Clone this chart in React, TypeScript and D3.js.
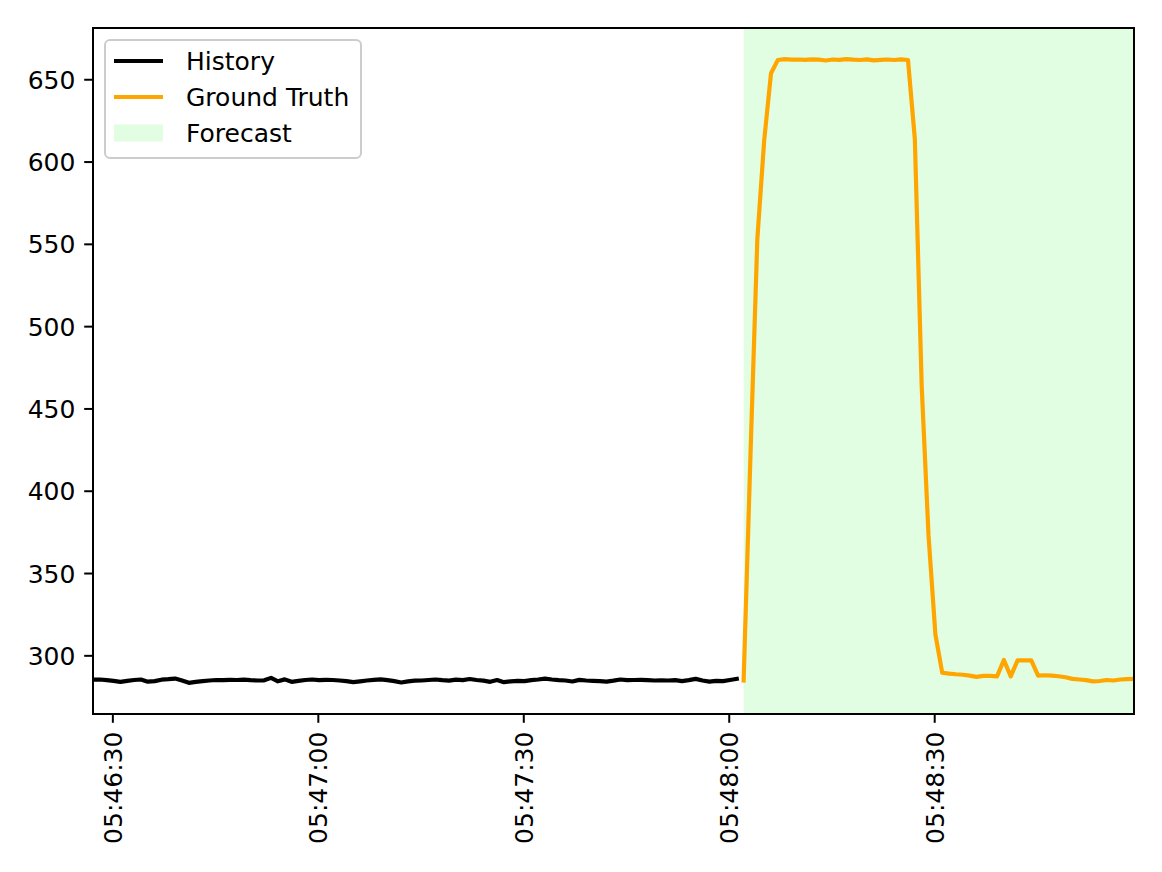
import React from "react";
import * as d3 from "d3";

const historyValues: number[] = [
  285.5, 285.6, 285.2, 284.8, 284.2, 284.8, 285.3, 285.6, 284.3, 284.6,
  285.5, 285.8, 286.2, 285.0, 283.6, 284.2, 284.6, 285.0, 285.3, 285.2,
  285.4, 285.3, 285.5, 285.2, 285.0, 285.1, 286.6, 284.5, 285.7, 284.2,
  284.8, 285.3, 285.6, 285.2, 285.4, 285.3, 285.0, 284.6, 284.0, 284.5,
  285.0, 285.4, 285.7, 285.2, 284.6, 283.8, 284.5, 284.9, 285.0, 285.3,
  285.6, 285.2, 284.9, 285.5, 285.2, 285.9, 285.3, 284.9, 284.2, 285.3,
  284.0, 284.5, 284.8, 284.6, 285.2, 285.6, 286.1, 285.6, 285.2, 285.0,
  284.4, 285.4, 285.0, 284.8, 284.6, 284.3, 284.9, 285.6, 285.2, 285.3,
  285.4, 285.2, 285.0, 285.1, 285.0, 285.2, 284.6, 285.2, 286.0, 285.0,
  284.3, 284.8, 284.6, 285.3, 286.0,
];

const groundTruthValues: number[] = [
  285, 422, 553, 613, 654, 662, 662.5, 662.2, 662.3, 662.1,
  662.4, 662.2, 661.7, 662.3, 662.1, 662.5, 662.2, 662.0, 662.4, 661.8,
  662.1, 662.3, 662.0, 662.4, 662.0, 614, 464, 373, 313, 289.7,
  289.2, 288.8, 288.5, 288.0, 287.2, 287.8, 287.8, 287.5, 297.5, 287.5,
  297.2, 297.3, 297.2, 288.0, 288.2, 288.0, 287.6, 287.0, 286.0, 285.6,
  285.2, 284.5, 284.7, 285.3, 285.0, 285.6, 285.8, 286.0,
];

const legendLabels: string[] = ["History", "Ground Truth", "Forecast"];
const yTickValues: number[] = [300, 350, 400, 450, 500, 550, 600, 650];

// time base: 1-second samples
const startTime = Date.UTC(2024, 0, 1, 5, 46, 27, 100);
const stepMs = 1000;

type Pt = { t: Date; v: number };
const historyData: Pt[] = historyValues.map((v, i) => ({ t: new Date(startTime + i * stepMs), v }));
const gtOffset = historyValues.length;
const gtData: Pt[] = groundTruthValues.map((v, i) => ({ t: new Date(startTime + (gtOffset + i) * stepMs), v }));

const W = 1162;
const H = 872;
const L = 93;
const R = 1134;
const T = 28;
const B = 714;
const FS = 25;
const FONT = "DejaVu Sans, sans-serif";
const LW = 4.2;

export default function App() {
  const all = [...historyData, ...gtData];
  const tMin = all[0].t;
  const tMax = all[all.length - 1].t;
  const x = d3.scaleUtc().domain([tMin, tMax]).range([L, R]);
  const vMin = d3.min(all, (d) => d.v) as number;
  const vMax = d3.max(all, (d) => d.v) as number;
  const pad = (vMax - vMin) * 0.05;
  const y = d3.scaleLinear().domain([vMin - pad, vMax + pad]).range([B, T]);

  const line = d3
    .line<Pt>()
    .x((d) => x(d.t))
    .y((d) => y(d.v));

  const xTicks = x.ticks(d3.utcSecond.every(30) as any);
  const fmt = d3.utcFormat("%H:%M:%S");
  const spanX0 = x(gtData[0].t);

  const tickLen = 8.8;
  const tickPad = 8.8;

  const legX = 105;
  const legY = 40;
  const legW = 256;
  const legH = 118;
  const rowY = [61, 97, 133];

  return (
    <svg
      width={W}
      height={H}
      style={{ position: "absolute", left: 0, top: 0, background: "#fff" }}
      fontFamily={FONT}
    >
      <rect x={0} y={0} width={W} height={H} fill="#fff" />
      <defs>
        <clipPath id="plot">
          <rect x={L} y={T} width={R - L} height={B - T} />
        </clipPath>
      </defs>
      {/* forecast span */}
      <rect x={spanX0} y={T} width={R - spanX0} height={B - T} fill="rgb(226,254,226)" />
      <g clipPath="url(#plot)">
        <path d={line(historyData) || ""} fill="none" stroke="#000" strokeWidth={LW} strokeLinejoin="round" strokeLinecap="square" />
        <path d={line(gtData) || ""} fill="none" stroke="#FFA500" strokeWidth={LW} strokeLinejoin="round" strokeLinecap="square" />
      </g>
      {/* spines */}
      <rect x={L} y={T} width={R - L} height={B - T} fill="none" stroke="#000" strokeWidth={2} />
      {/* y axis */}
      {yTickValues.map((v) => (
        <g key={v}>
          <line x1={L - tickLen} x2={L} y1={y(v)} y2={y(v)} stroke="#000" strokeWidth={2} />
          <text x={L - tickLen - tickPad} y={y(v)} dy="0.36em" textAnchor="end" fontSize={FS} fill="#000">
            {v}
          </text>
        </g>
      ))}
      {/* x axis */}
      {xTicks.map((t) => {
        const px = x(t);
        return (
          <g key={t.getTime()}>
            <line x1={px} x2={px} y1={B} y2={B + tickLen} stroke="#000" strokeWidth={2} />
            <text
              transform={`translate(${px},${B + tickLen + tickPad}) rotate(-90)`}
              textAnchor="end"
              dy="0.36em"
              fontSize={FS}
              fill="#000"
            >
              {fmt(t)}
            </text>
          </g>
        );
      })}
      {/* legend */}
      <rect x={legX} y={legY} width={legW} height={legH} rx={5} ry={5} fill="#fff" fillOpacity={0.8} stroke="#cccccc" strokeWidth={2} />
      <line x1={114} x2={163} y1={rowY[0]} y2={rowY[0]} stroke="#000" strokeWidth={LW} />
      <line x1={114} x2={163} y1={rowY[1]} y2={rowY[1]} stroke="#FFA500" strokeWidth={LW} />
      <rect x={114} y={rowY[2] - 8.5} width={49} height={17} fill="rgb(226,254,226)" />
      {legendLabels.map((lab, i) => (
        <text key={lab} x={186} y={rowY[i]} dy="0.36em" fontSize={FS} fill="#000">
          {lab}
        </text>
      ))}
    </svg>
  );
}
